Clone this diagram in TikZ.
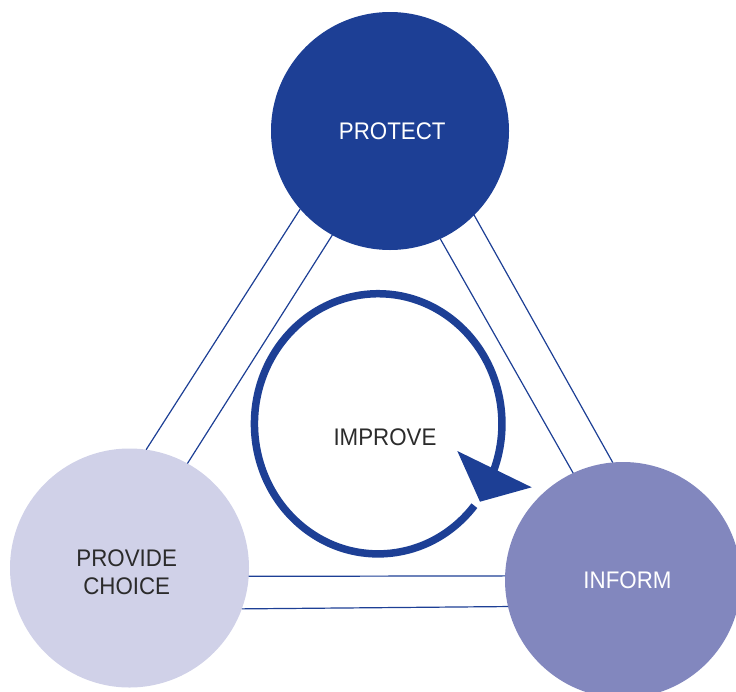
\documentclass[tikz,border=0pt]{standalone}
\usepackage{fontspec}
\setmainfont{Liberation Sans}[FakeStretch=0.93]
\definecolor{dblue}{HTML}{1D3F95}
\definecolor{mblue}{HTML}{8287BE}
\definecolor{lblue}{HTML}{D0D1E8}
\definecolor{txtdark}{HTML}{2B2B2B}
\begin{document}
\begin{tikzpicture}[x=1pt,y=-1pt,
  disc/.style={circle,inner sep=0pt,outer sep=0pt,draw=none},
  lbl/.style={inner sep=0pt,font=\fontsize{24}{28.3}\selectfont,align=center},
  conn/.style={draw=dblue,line width=1.2pt}]
\useasboundingbox (0,0) rectangle (736,691);
\node[disc,fill=dblue,minimum size=238pt] (protect) at (390,131) {};
\node[disc,fill=lblue,minimum size=239pt] (choice) at (129.5,568) {};
\node[disc,fill=mblue,minimum size=236pt] (inform) at (623,580) {};
\node[lbl,text=white] (tprotect) at (392.3,131) {PROTECT};
\node[lbl,text=txtdark] (tchoice) at (126.7,572.5) {PROVIDE\\CHOICE};
\node[lbl,text=white] (tinform) at (627.5,580) {INFORM};
\node[lbl,text=txtdark] (timprove) at (385,437) {IMPROVE};
% connectors
\draw[conn] (protect.221.3) -- (choice.82.3);
\draw[conn] (protect.241.1) -- (choice.61.9);
\draw[conn] (protect.315.5) -- (inform.95.8);
\draw[conn] (protect.295.9) -- (inform.115.6);
\draw[conn] (choice.356.2) -- (inform.178.1);
\draw[conn] (choice.340.4) -- (inform.193.7);
% improve cycle
\coordinate (ic) at (378.2,423.8);
\coordinate (tipA) at (457.3,451);
\coordinate (tipB) at (531.7,487.3);
\coordinate (tipC) at (480,501.7);
\draw[dblue,line width=7.5pt] ([shift={(39:123.75 and 130.1)}]ic) arc[start angle=39,end angle=384,x radius=123.75,y radius=130.1];
\fill[dblue] (tipA) -- (tipB) -- (tipC) -- cycle;
\end{tikzpicture}
\end{document}
